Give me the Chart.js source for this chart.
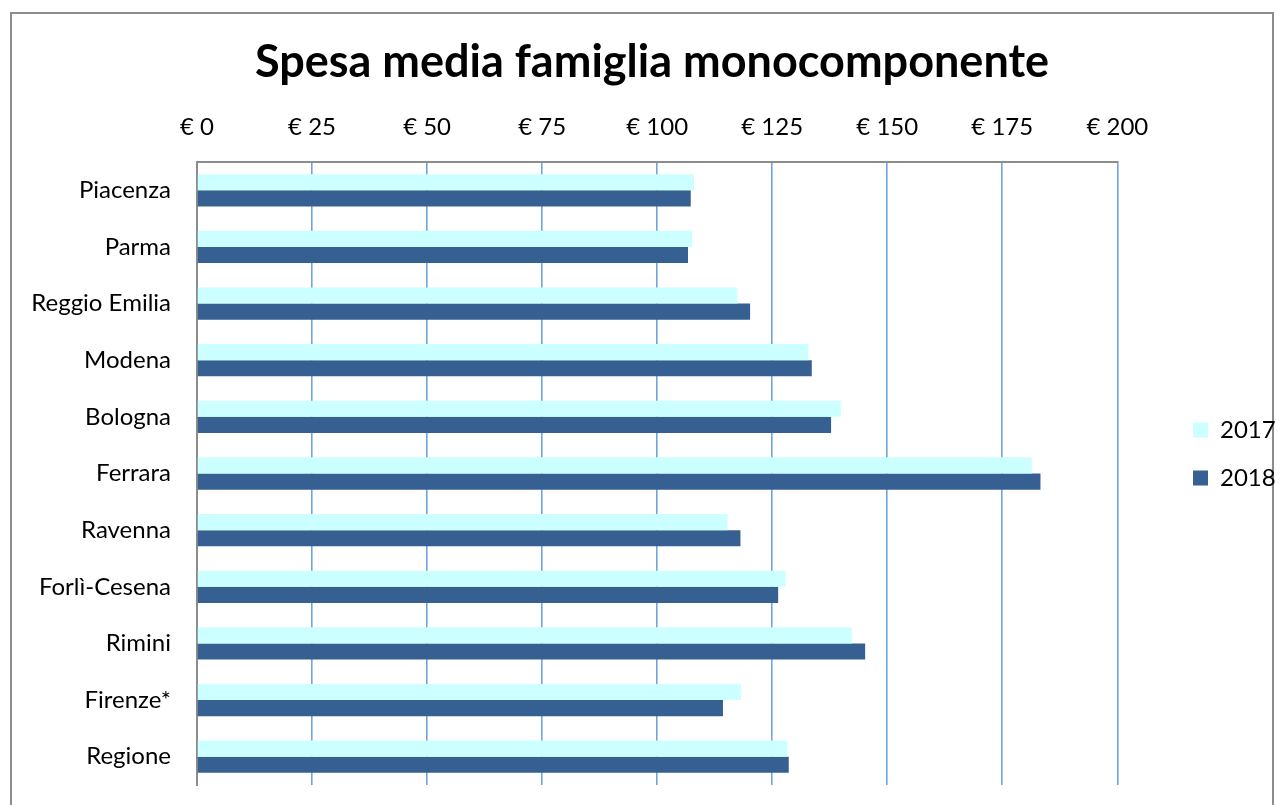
<!DOCTYPE html>
<html>
<head>
<meta charset="utf-8">
<script src="https://cdn.jsdelivr.net/npm/chart.js@4"></script>
<style>
  body { margin: 0; background: #fff; }
  #wrap { position: relative; width: 1284px; height: 805px; overflow: hidden; }
  #frame { position: absolute; left: 10px; top: 12px; width: 1264px; height: 820px; border: 2px solid #8c8c8c; box-sizing: border-box; }
  canvas { position: absolute; left: 0; top: 0; }
</style>
</head>
<body>
<div id="wrap">
  <div id="frame"></div>
  <canvas id="myChart" width="1284" height="805"></canvas>
</div>
<script>
const categories = ['Piacenza', 'Parma', 'Reggio Emilia', 'Modena', 'Bologna', 'Ferrara', 'Ravenna', 'Forlì-Cesena', 'Rimini', 'Firenze*', 'Regione'];
const values2017 = [108.0, 107.6, 117.4, 132.9, 139.9, 181.4, 115.3, 127.9, 142.3, 118.2, 128.3];
const values2018 = [107.3, 106.7, 120.2, 133.6, 137.8, 183.3, 118.1, 126.3, 145.2, 114.3, 128.6];
const tickValues = [0, 25, 50, 75, 100, 125, 150, 175, 200];

const font = 'Lato, "Open Sans", sans-serif';

// legend sits further right and a bit lower in the original; also let the
// category labels use the space left of the y axis box
const fixLayout = {
  id: 'fixLayout',
  afterLayout(chart) {
    const lg = chart.legend;
    const dx = 1193 - (chart.chartArea.right + 24);
    const dy = 44;
    lg.left += dx;
    lg.right += dx;
    lg.top += dy;
    lg.bottom += dy;
    chart.scales.y.left = 0;
  },
};

const ctx = document.getElementById('myChart');

const chart = new Chart(ctx, {
  type: 'bar',
  data: {
    labels: categories,
    datasets: [
      { label: '2017', data: values2017, backgroundColor: '#CCFFFF' },
      { label: '2018', data: values2018, backgroundColor: '#366092' },
    ],
  },
  plugins: [fixLayout],
  options: {
    indexAxis: 'y',
    responsive: false,
    animation: false,
    datasets: {
      bar: { categoryPercentage: 0.57, barPercentage: 1.0 },
    },
    layout: { padding: { top: 35, left: 70, right: 50, bottom: 20 } },
    plugins: {
      title: {
        display: true,
        text: 'Spesa media famiglia monocomponente',
        color: '#000',
        font: { family: font, size: 45, weight: 'bold', lineHeight: 1.2 },
        padding: { top: 0, bottom: 10 },
      },
      legend: {
        position: 'right',
        labels: {
          color: '#000',
          font: { family: font, size: 24 },
          boxWidth: 15,
          boxHeight: 15,
          padding: 24,
        },
      },
      tooltip: { enabled: false },
    },
    scales: {
      x: {
        position: 'top',
        min: 0,
        max: 200,
        afterBuildTicks: (scale) => {
          scale.ticks = tickValues.map((v) => ({ value: v }));
        },
        afterFit: (scale) => { scale.height = 63; },
        ticks: {
          color: '#000',
          font: { family: font, size: 24 },
          padding: 20,
          callback: (v) => '€ ' + v,
        },
        grid: {
          drawTicks: false,
          lineWidth: 1.6,
          color: (c) => (c.index === 0 ? '#8c8c8c' : '#6FA5DC'),
        },
        border: { display: true, color: '#8c8c8c', width: 2 },
      },
      y: {
        afterFit: (scale) => {
          scale.width = 127;
          scale.paddingTop = 0;
          scale.paddingBottom = 0;
        },
        ticks: {
          color: '#000',
          font: { family: font, size: 24 },
          padding: 26,
        },
        grid: { display: false, drawTicks: false },
        border: { display: true, color: '#8c8c8c', width: 2 },
      },
    },
  },
});
</script>
</body>
</html>
